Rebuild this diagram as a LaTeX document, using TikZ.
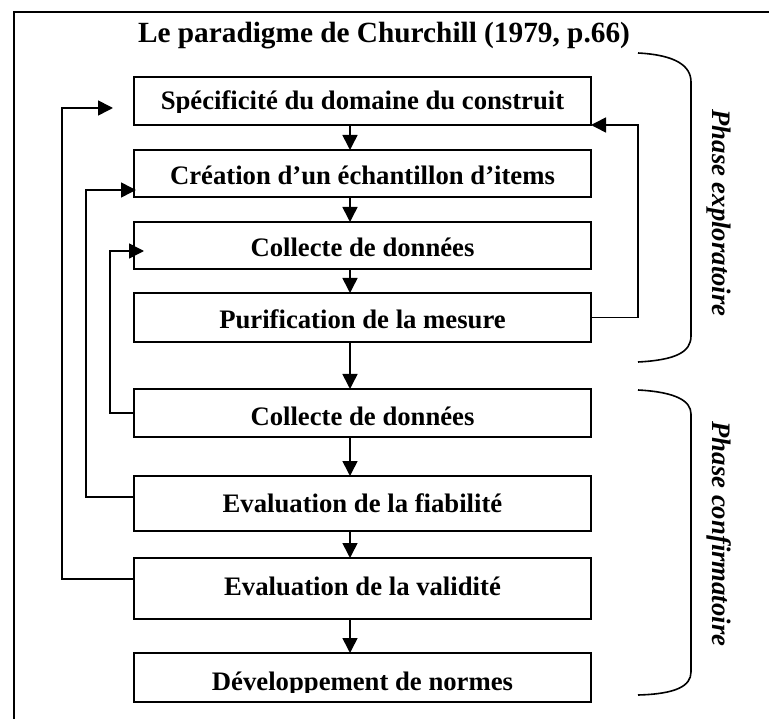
\documentclass[tikz,border=0pt]{standalone}
\usepackage{fontspec}
\setmainfont{Liberation Serif}
\usetikzlibrary{arrows.meta,calc}
\begin{document}
\begin{tikzpicture}[x=1pt,y=-1pt,
  box/.style={draw,line width=1.6pt,minimum width=457pt,inner sep=0pt,outer sep=0pt,anchor=north west},
  lbl/.style={inner sep=0pt,anchor=base,font=\fontsize{26.7}{30}\selectfont\bfseries},
  side/.style={inner sep=0pt,font=\fontsize{26.7}{30}\selectfont\bfseries\itshape},
  arr/.style={line width=1.6pt,-{Triangle[length=15pt,width=15pt]}},
  ln/.style={line width=1.6pt}]
\useasboundingbox (0,0) rectangle (769,719);
% frame
\draw[line width=1.7pt] (14,719) -- (14,12) -- (769,12);
% title
\node[inner sep=0pt,anchor=base,font=\fontsize{29.3}{32}\selectfont\bfseries] (title) at (384,43) {Le paradigme de Churchill (1979, p.66)};
% boxes
\node[box,minimum height=48pt] (b1) at (134,77) {};
\node[box,minimum height=47pt] (b2) at (134,150) {};
\node[box,minimum height=47pt] (b3) at (134,222) {};
\node[box,minimum height=49pt] (b4) at (134,293) {};
\node[box,minimum height=48pt] (b5) at (134,389) {};
\node[box,minimum height=55pt] (b6) at (134,476) {};
\node[box,minimum height=61pt] (b7) at (134,558) {};
\node[box,minimum height=49pt] (b8) at (134,653) {};
% texts
\begin{scope}
\clip (135,78) rectangle (590,113);
\node[lbl] (t1) at (362.5,110) {Spécificité du domaine du construit};
\end{scope}
\node[lbl] (t2) at (362.5,185) {Création d’un échantillon d’items};
\node[lbl] (t3) at (362.5,257) {Collecte de données};
\node[lbl] (t4) at (362.5,329) {Purification de la mesure};
\node[lbl] (t5) at (362.5,425) {Collecte de données};
\node[lbl] (t6) at (362.5,512) {Evaluation de la fiabilité};
\node[lbl] (t7) at (362.5,595) {Evaluation de la validité};
\begin{scope}
\clip (135,654) rectangle (590,692);
\node[lbl] (t8) at (362.5,690) {Développement de normes};
\end{scope}
% down arrows
\foreach \a/\b in {b1/b2,b2/b3,b3/b4,b4/b5,b5/b6,b6/b7,b7/b8}
  \draw[arr] ([xshift=-12.5pt]\a.south) -- ([xshift=-12.5pt]\b.north);
% feedback loops
\draw[arr] (b4.east) -- ++(47,0) |- (b1.south east);
\draw[arr] (b5.west) -- ++(-24,0) |- ($(b3.west)+(10,5.5)$);
\draw[arr] ($(b6.west)+(0,-6.5)$) -- ++(-48,0) |- ($(b2.south west)+(2,-7)$);
\draw[arr] ($(b7.west)+(0,-9.5)$) -- ++(-72,0) |- ($(b1.west)+(-21,7)$);
% braces
\draw[ln] (638,53) .. controls (676,55) and (691,66) .. (691,82) -- (691,336) .. controls (691,352) and (676,360) .. (638,362);
\draw[ln] (638,390) .. controls (676,392) and (691,401) .. (691,414) -- (691,672) .. controls (691,686) and (676,694) .. (638,695);
% phase labels
\node[side,rotate=-90] (p1) at (719,213) {Phase exploratoire};
\node[side,rotate=-90] (p2) at (719,534) {Phase confirmatoire};
\end{tikzpicture}
\end{document}
